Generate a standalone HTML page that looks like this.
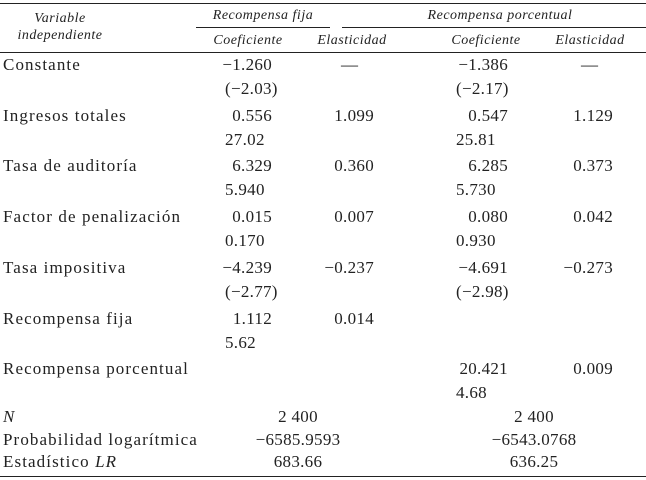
<!DOCTYPE html>
<html><head><meta charset="utf-8"><style>
body{margin:0;background:#fff;}
#t{position:relative;width:646px;height:480px;font-family:"Liberation Serif",serif;font-size:17px;color:#222;letter-spacing:1.1px;}
#t div{position:absolute;white-space:nowrap;line-height:1;}
.l{}
.r{transform:translateX(-100%);}
.c{transform:translateX(-50%);}
.n{letter-spacing:0.3px;}
.i{font-style:italic;font-size:14px;letter-spacing:0.5px;}
.rule{background:#222;height:1px;}
</style></head><body>
<div id="t">
<div class="rule" style="left:0;top:3px;width:646px"></div>
<div class="rule" style="left:196px;top:27px;width:134px"></div>
<div class="rule" style="left:342px;top:27px;width:304px"></div>
<div class="rule" style="left:0;top:52px;width:646px"></div>
<div class="rule" style="left:0;top:476px;width:646px"></div>
<div class="c i" style="left:60px;top:12px">Variable</div>
<div class="c i" style="left:60px;top:29px">independiente</div>
<div class="c i" style="left:263px;top:9px">Recompensa fija</div>
<div class="c i" style="left:500px;top:9px">Recompensa porcentual</div>
<div class="c i" style="left:248px;top:34px">Coeficiente</div>
<div class="c i" style="left:352px;top:34px">Elasticidad</div>
<div class="c i" style="left:486px;top:34px">Coeficiente</div>
<div class="c i" style="left:590px;top:34px">Elasticidad</div>
</div>
<script>
const labels=["Constante","Ingresos totales","Tasa de auditoría","Factor de penalización","Tasa impositiva","Recompensa fija","Recompensa porcentual"];
const coefF=["−1.260","0.556","6.329","0.015","−4.239","1.112",""];
const statF=["(−2.03)","27.02","5.940","0.170","(−2.77)","5.62",""];
const elasF=["—","1.099","0.360","0.007","−0.237","0.014",""];
const coefP=["−1.386","0.547","6.285","0.080","−4.691","","20.421"];
const statP=["(−2.17)","25.81","5.730","0.930","(−2.98)","","4.68"];
const elasP=["—","1.129","0.373","0.042","−0.273","","0.009"];
const t=document.getElementById('t');
function add(txt,x,y,cls,name){
 if(!txt)return;
 const d=document.createElement('div');
 d.className=cls;d.textContent=txt;d.style.left=x+'px';d.style.top=y+'px';
 
 
 t.appendChild(d);
}
labels.forEach((lb,i)=>{
 const y=56+i*50.7;
 add(lb,3,y,'l','row-label');
 add(coefF[i],272,y,'r n','coef-fija');
 add(statF[i],225,y+24,'l n','stat-fija');
 if(elasF[i]==="—")add("—",350,y,'c','elast-fija');else add(elasF[i],374,y,'r n','elast-fija');
 add(coefP[i],508,y,'r n','coef-porc');
 add(statP[i],456,y+24,'l n','stat-porc');
 if(elasP[i]==="—")add("—",590,y,'c','elast-porc');else add(elasP[i],613,y,'r n','elast-porc');
});
const sumLabels=["N","Probabilidad logarítmica","Estadístico "];
const sumF=["2 400","−6585.9593","683.66"];
const sumP=["2 400","−6543.0768","636.25"];
sumLabels.forEach((lb,i)=>{
 const y=408+i*22.5;
 const d=document.createElement('div');
 d.style.left='3px';d.style.top=y+'px';
 if(i===0){d.innerHTML='<i>N</i>';}
 else if(i===2){d.innerHTML='Estadístico <i>LR</i>';}
 else d.textContent=lb;
 
 
 t.appendChild(d);
 add(sumF[i],298,y,'c n','summary-fija');
 add(sumP[i],534,y,'c n','summary-porc');
});
</script>
</body></html>
